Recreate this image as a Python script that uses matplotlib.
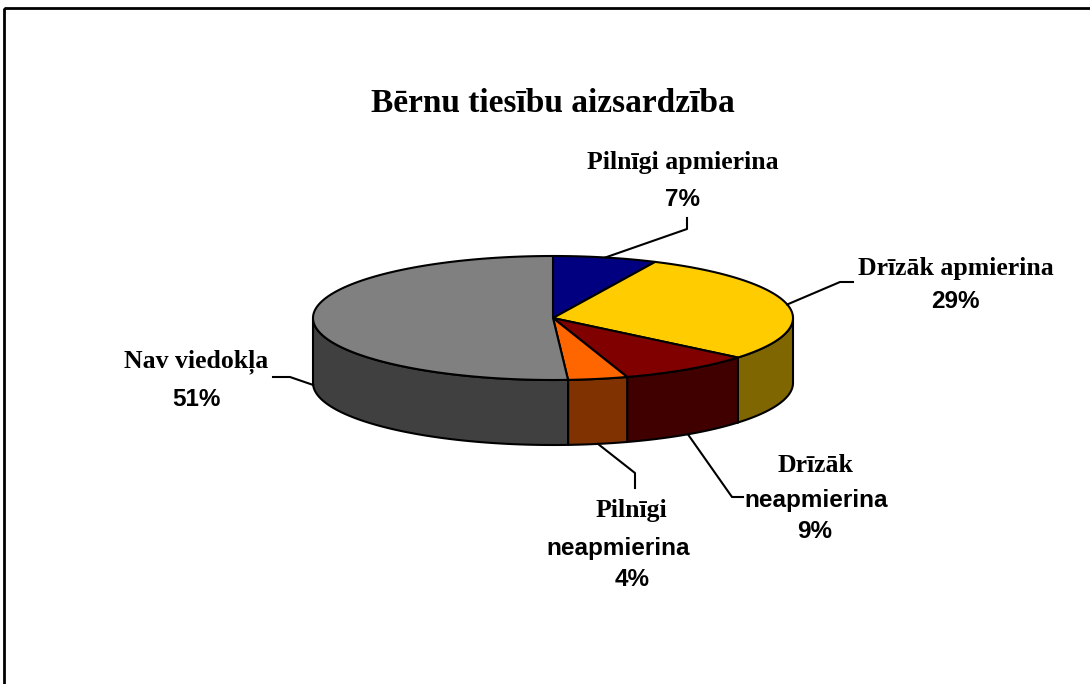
import numpy as np
import matplotlib.pyplot as plt
from matplotlib.patches import Polygon, Rectangle

# Data
categories = ["Pilnīgi apmierina", "Drīzāk apmierina", "Drīzāk neapmierina",
              "Pilnīgi neapmierina", "Nav viedokļa"]
values = [7, 29, 9, 4, 51]
title = "Bērnu tiesību aizsardzība"

top_colors = ['#000080', '#FFCC00', '#800000', '#FF6600', '#808080']
side_colors = ['#000040', '#806600', '#400000', '#803300', '#404040']

# Pie geometry in pixel space
cx, cy, rx, ry, depth = 553, 318, 240, 62, 65


def edge(t, dy=0):
    t = np.radians(t)
    return cx + rx * np.sin(t), cy - ry * np.cos(t) + dy


fig = plt.figure(figsize=(10.9, 6.84), dpi=100)
ax = fig.add_axes([0, 0, 1, 1])
ax.set_xlim(0, 1090)
ax.set_ylim(684, 0)
ax.axis('off')

# chart frame (cropped on right/bottom)
ax.add_patch(Rectangle((4, 8), 1200, 800, fill=False, lw=2, ec='black'))

bounds = np.concatenate([[0], np.cumsum(values)]) / sum(values) * 360

# side walls (front half only)
for i in range(len(values)):
    lo, hi = max(bounds[i], 90), min(bounds[i + 1], 270)
    if lo >= hi:
        continue
    ts = np.linspace(lo, hi, 80)
    xs, ys = edge(ts)
    pts = list(zip(xs, ys)) + list(zip(xs[::-1], ys[::-1] + depth))
    ax.add_patch(Polygon(pts, closed=True, fc=side_colors[i], ec='black', lw=1.5))

# top faces
for i in range(len(values)):
    ts = np.linspace(bounds[i], bounds[i + 1], 120)
    xs, ys = edge(ts)
    pts = [(cx, cy)] + list(zip(xs, ys))
    ax.add_patch(Polygon(pts, closed=True, fc=top_colors[i], ec='black', lw=1.5,
                         joinstyle='round'))

# leader lines
elbows = [(687, 229), (840, 282), (732, 497), (635, 473), (290, 377)]
ends = [(687, 218), (853, 282), (743, 497), (635, 488), (273, 377)]
for i in range(len(values)):
    mid = (bounds[i] + bounds[i + 1]) / 2
    front = 90 < mid < 270
    ax0, ay0 = edge(mid, depth if front else 0)
    ax.plot([ax0, elbows[i][0], ends[i][0]], [ay0, elbows[i][1], ends[i][1]],
            color='black', lw=1.5)

serif = dict(family='Liberation Serif', weight='bold', fontsize=18.5,
             ha='center', va='center')
sans = dict(family='Liberation Sans', weight='bold', fontsize=17.5,
            ha='center', va='center')

ax.text(553, 103, title, family='Liberation Serif', weight='bold', fontsize=24,
        ha='center', va='center')

ax.text(683, 162, categories[0], **serif)
ax.text(683, 199, f"{values[0]}%", **sans)

ax.text(956, 268, categories[1], **serif)
ax.text(955, 302, f"{values[1]}%", **sans)

ax.text(815, 465, "Drīzāk", **serif)
ax.text(816, 500, "neapmierina", **sans)
ax.text(815, 531, f"{values[2]}%", **sans)

ax.text(631, 511, "Pilnīgi", **serif)
ax.text(618, 548, "neapmierina", **sans)
ax.text(632, 580, f"{values[3]}%", **sans)

ax.text(196, 362, categories[4], **serif)
ax.text(196, 400, f"{values[4]}%", **sans)

fig.savefig("out.png", dpi=100)
